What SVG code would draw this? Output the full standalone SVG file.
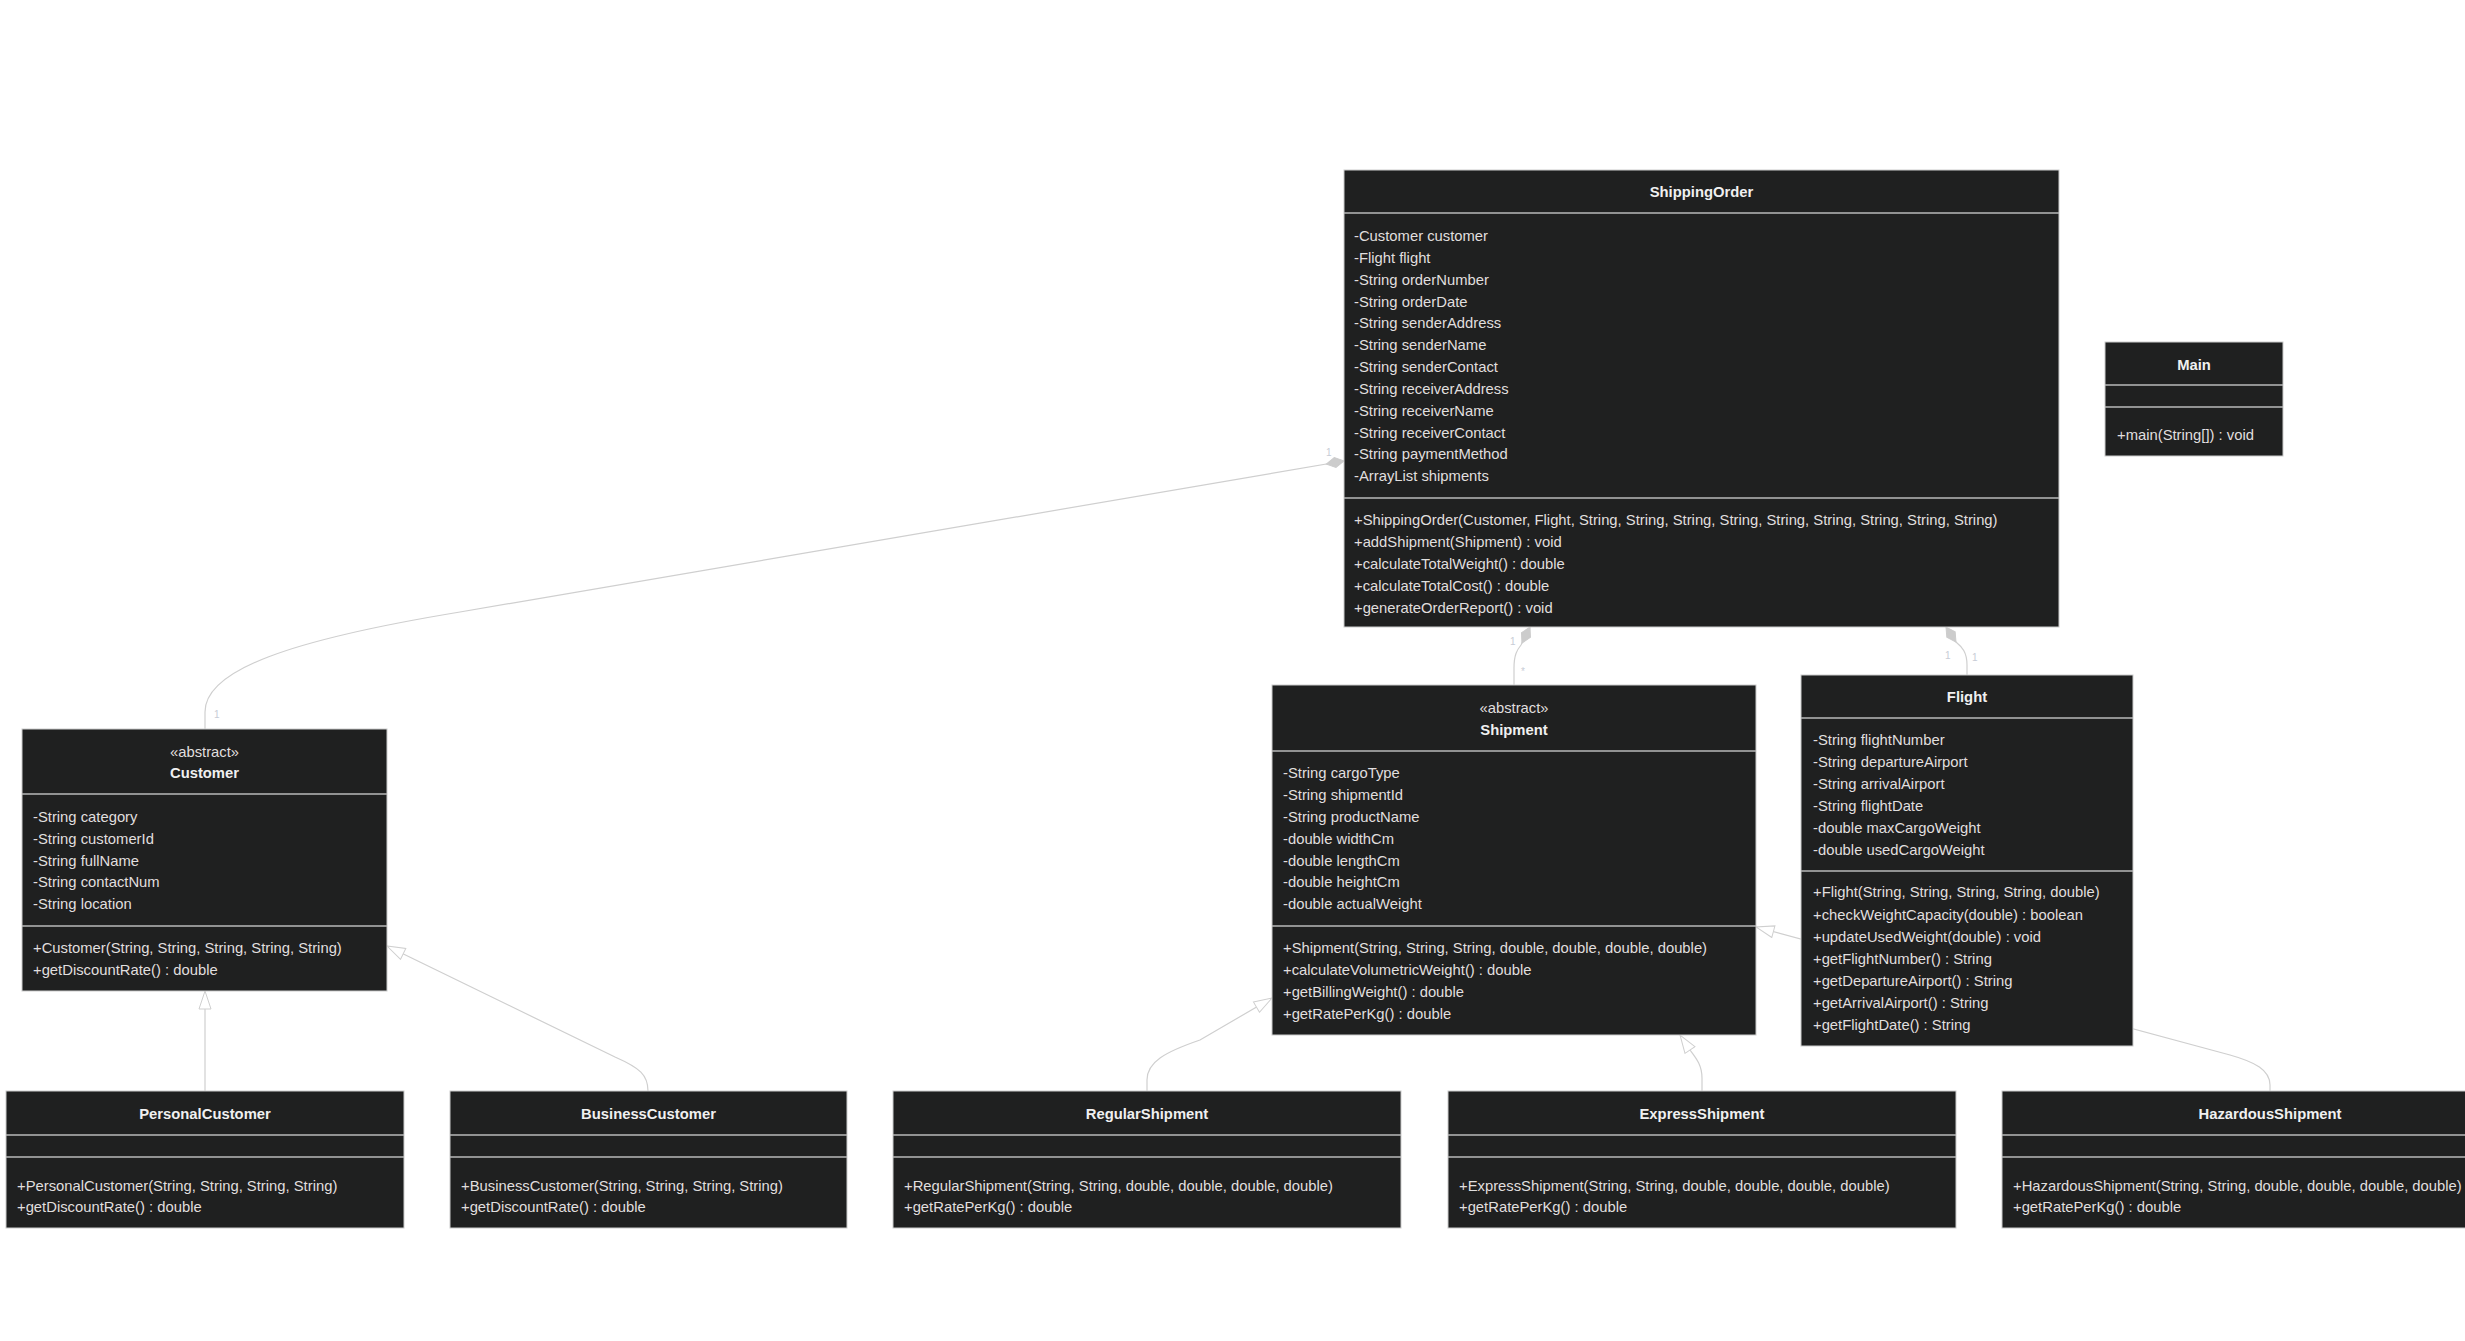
<svg xmlns="http://www.w3.org/2000/svg" width="2465" height="1341" viewBox="0 0 2465 1341">
<style>
.box{fill:#1f2020;stroke:#cccccc;stroke-width:1}
.div{stroke:#b8b8b8;stroke-width:1.5}
.t{font-family:"Liberation Sans",Arial,sans-serif;font-size:14.8px;fill:#e0dfdf}
.ti{font-family:"Liberation Sans",Arial,sans-serif;font-size:14.8px;fill:#f0f0f0;font-weight:bold;text-anchor:middle}
.st{font-family:"Liberation Sans",Arial,sans-serif;font-size:14.8px;fill:#e0dfdf;text-anchor:middle}
.edge{fill:none;stroke:#cfcfcf;stroke-width:1.2}
.lbl{font-family:"Liberation Sans",Arial,sans-serif;font-size:10px;fill:#c8ccd6}
</style>
<defs>
<marker id="tri" markerUnits="userSpaceOnUse" viewBox="0 0 20 14" refX="19" refY="7" markerWidth="20" markerHeight="14" orient="auto">
<path d="M1,1 L19,7 L1,13 Z" fill="#ffffff" stroke="#cfcfcf" stroke-width="1"/>
</marker>
<marker id="dia" markerUnits="userSpaceOnUse" viewBox="0 0 20 12" refX="19" refY="6" markerWidth="20" markerHeight="12" orient="auto">
<path d="M1,6 L10,1 L19,6 L10,11 Z" fill="#cccccc" stroke="#cccccc" stroke-width="1"/>
</marker>
</defs>
<rect width="2465" height="1341" fill="#ffffff"/>
<g id="connectors">
<path class="edge" d="M205,729 L205,712 C205,670 290,640 460,612 L1344,461" marker-end="url(#dia)"/>
<path class="edge" d="M1514,685 L1514,668 C1514,655 1517,650 1521,645 L1530,627" marker-end="url(#dia)"/>
<path class="edge" d="M1967,675 L1967,665 C1967,652 1962,647 1956,642 L1946,627" marker-end="url(#dia)"/>
<path class="edge" d="M205,1091 L205,991" marker-end="url(#tri)"/>
<path class="edge" d="M648,1091 C648,1075 640,1068 615,1057 L387,946" marker-end="url(#tri)"/>
<path class="edge" d="M1147,1091 L1147,1080 C1147,1062 1165,1052 1200,1040 L1272,998" marker-end="url(#tri)"/>
<path class="edge" d="M1702,1091 L1702,1078 C1702,1065 1696,1058 1690,1050 L1680,1035" marker-end="url(#tri)"/>
<path class="edge" d="M2270,1091 L2270,1085 C2270,1070 2255,1062 2230,1055 L1756,927" marker-end="url(#tri)"/>
<text class="lbl" x="1326" y="456">1</text>
<text class="lbl" x="214" y="718">1</text>
<text class="lbl" x="1510" y="645">1</text>
<text class="lbl" x="1521" y="675">*</text>
<text class="lbl" x="1945" y="659">1</text>
<text class="lbl" x="1972" y="661">1</text>
</g>
<g id="ShippingOrder">
<rect class="box" x="1344" y="170" width="715" height="457"/>
<text class="ti" x="1701.5" y="197">ShippingOrder</text>
<line class="div" x1="1344" y1="213" x2="2059" y2="213"/>
<text class="t" x="1354" y="241">-Customer customer</text>
<text class="t" x="1354" y="263">-Flight flight</text>
<text class="t" x="1354" y="285">-String orderNumber</text>
<text class="t" x="1354" y="306.5">-String orderDate</text>
<text class="t" x="1354" y="328">-String senderAddress</text>
<text class="t" x="1354" y="350">-String senderName</text>
<text class="t" x="1354" y="372">-String senderContact</text>
<text class="t" x="1354" y="394">-String receiverAddress</text>
<text class="t" x="1354" y="415.5">-String receiverName</text>
<text class="t" x="1354" y="437.5">-String receiverContact</text>
<text class="t" x="1354" y="459">-String paymentMethod</text>
<text class="t" x="1354" y="481">-ArrayList shipments</text>
<line class="div" x1="1344" y1="498" x2="2059" y2="498"/>
<text class="t" x="1354" y="525">+ShippingOrder(Customer, Flight, String, String, String, String, String, String, String, String, String)</text>
<text class="t" x="1354" y="547">+addShipment(Shipment) : void</text>
<text class="t" x="1354" y="569">+calculateTotalWeight() : double</text>
<text class="t" x="1354" y="591">+calculateTotalCost() : double</text>
<text class="t" x="1354" y="613">+generateOrderReport() : void</text>
</g>
<g id="Main">
<rect class="box" x="2105" y="342" width="178" height="114"/>
<text class="ti" x="2194" y="370">Main</text>
<line class="div" x1="2105" y1="385" x2="2283" y2="385"/>
<line class="div" x1="2105" y1="407" x2="2283" y2="407"/>
<text class="t" x="2117" y="440">+main(String[]) : void</text>
</g>
<g id="Customer">
<rect class="box" x="22" y="729" width="365" height="262"/>
<text class="st" x="204.5" y="757">«abstract»</text>
<text class="ti" x="204.5" y="778">Customer</text>
<line class="div" x1="22" y1="794" x2="387" y2="794"/>
<text class="t" x="33" y="822">-String category</text>
<text class="t" x="33" y="844">-String customerId</text>
<text class="t" x="33" y="866">-String fullName</text>
<text class="t" x="33" y="887">-String contactNum</text>
<text class="t" x="33" y="909">-String location</text>
<line class="div" x1="22" y1="926" x2="387" y2="926"/>
<text class="t" x="33" y="953">+Customer(String, String, String, String, String)</text>
<text class="t" x="33" y="975">+getDiscountRate() : double</text>
</g>
<g id="Shipment">
<rect class="box" x="1272" y="685" width="484" height="350"/>
<text class="st" x="1514" y="713">«abstract»</text>
<text class="ti" x="1514" y="735">Shipment</text>
<line class="div" x1="1272" y1="751" x2="1756" y2="751"/>
<text class="t" x="1283" y="778">-String cargoType</text>
<text class="t" x="1283" y="800">-String shipmentId</text>
<text class="t" x="1283" y="822">-String productName</text>
<text class="t" x="1283" y="844">-double widthCm</text>
<text class="t" x="1283" y="866">-double lengthCm</text>
<text class="t" x="1283" y="887">-double heightCm</text>
<text class="t" x="1283" y="909">-double actualWeight</text>
<line class="div" x1="1272" y1="926" x2="1756" y2="926"/>
<text class="t" x="1283" y="953">+Shipment(String, String, String, double, double, double, double)</text>
<text class="t" x="1283" y="975">+calculateVolumetricWeight() : double</text>
<text class="t" x="1283" y="997">+getBillingWeight() : double</text>
<text class="t" x="1283" y="1019">+getRatePerKg() : double</text>
</g>
<g id="Flight">
<rect class="box" x="1801" y="675" width="332" height="371"/>
<text class="ti" x="1967" y="702">Flight</text>
<line class="div" x1="1801" y1="718" x2="2133" y2="718"/>
<text class="t" x="1813" y="745">-String flightNumber</text>
<text class="t" x="1813" y="767">-String departureAirport</text>
<text class="t" x="1813" y="789">-String arrivalAirport</text>
<text class="t" x="1813" y="811">-String flightDate</text>
<text class="t" x="1813" y="833">-double maxCargoWeight</text>
<text class="t" x="1813" y="855">-double usedCargoWeight</text>
<line class="div" x1="1801" y1="871" x2="2133" y2="871"/>
<text class="t" x="1813" y="897">+Flight(String, String, String, String, double)</text>
<text class="t" x="1813" y="920">+checkWeightCapacity(double) : boolean</text>
<text class="t" x="1813" y="942">+updateUsedWeight(double) : void</text>
<text class="t" x="1813" y="964">+getFlightNumber() : String</text>
<text class="t" x="1813" y="986">+getDepartureAirport() : String</text>
<text class="t" x="1813" y="1008">+getArrivalAirport() : String</text>
<text class="t" x="1813" y="1030">+getFlightDate() : String</text>
</g>
<g id="PersonalCustomer">
<rect class="box" x="6" y="1091" width="398" height="137"/>
<text class="ti" x="205" y="1119">PersonalCustomer</text>
<line class="div" x1="6" y1="1135" x2="404" y2="1135"/>
<line class="div" x1="6" y1="1157" x2="404" y2="1157"/>
<text class="t" x="17" y="1191">+PersonalCustomer(String, String, String, String)</text>
<text class="t" x="17" y="1212">+getDiscountRate() : double</text>
</g>
<g id="BusinessCustomer">
<rect class="box" x="450" y="1091" width="397" height="137"/>
<text class="ti" x="648.5" y="1119">BusinessCustomer</text>
<line class="div" x1="450" y1="1135" x2="847" y2="1135"/>
<line class="div" x1="450" y1="1157" x2="847" y2="1157"/>
<text class="t" x="461" y="1191">+BusinessCustomer(String, String, String, String)</text>
<text class="t" x="461" y="1212">+getDiscountRate() : double</text>
</g>
<g id="RegularShipment">
<rect class="box" x="893" y="1091" width="508" height="137"/>
<text class="ti" x="1147" y="1119">RegularShipment</text>
<line class="div" x1="893" y1="1135" x2="1401" y2="1135"/>
<line class="div" x1="893" y1="1157" x2="1401" y2="1157"/>
<text class="t" x="904" y="1191">+RegularShipment(String, String, double, double, double, double)</text>
<text class="t" x="904" y="1212">+getRatePerKg() : double</text>
</g>
<g id="ExpressShipment">
<rect class="box" x="1448" y="1091" width="508" height="137"/>
<text class="ti" x="1702" y="1119">ExpressShipment</text>
<line class="div" x1="1448" y1="1135" x2="1956" y2="1135"/>
<line class="div" x1="1448" y1="1157" x2="1956" y2="1157"/>
<text class="t" x="1459" y="1191">+ExpressShipment(String, String, double, double, double, double)</text>
<text class="t" x="1459" y="1212">+getRatePerKg() : double</text>
</g>
<g id="HazardousShipment">
<rect class="box" x="2002" y="1091" width="536" height="137"/>
<text class="ti" x="2270" y="1119">HazardousShipment</text>
<line class="div" x1="2002" y1="1135" x2="2538" y2="1135"/>
<line class="div" x1="2002" y1="1157" x2="2538" y2="1157"/>
<text class="t" x="2013" y="1191">+HazardousShipment(String, String, double, double, double, double)</text>
<text class="t" x="2013" y="1212">+getRatePerKg() : double</text>
</g>
</svg>
